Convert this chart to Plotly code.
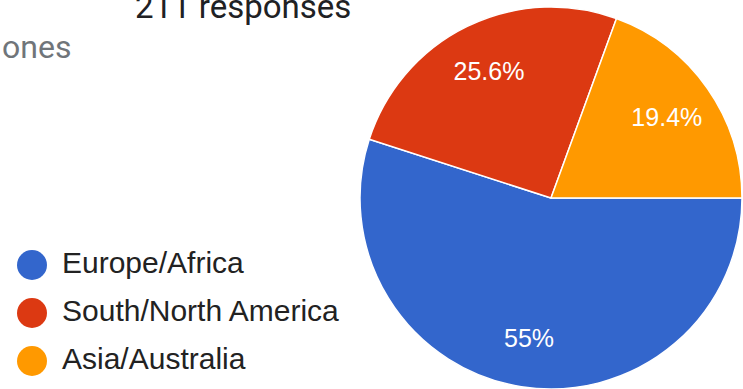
import plotly.graph_objects as go

# Survey answers: which region the respondents are in
regions = ["Europe/Africa", "South/North America", "Asia/Australia"]
responses = [116, 54, 41]
colors = ["#3366cc", "#dc3912", "#ff9900"]
response_label = "211 responses"
title_tail = "ones"

total = sum(responses)


def pct_label(v):
    p = round(v / total * 100, 1)
    s = f"{p:.1f}".rstrip("0").rstrip(".")
    return s + "%"


pct_text = [pct_label(v) for v in responses]

W, H = 743, 389
SANS = "Arial, 'Liberation Sans', sans-serif"
UI = "Roboto, 'Noto Sans', sans-serif"

pie_domain = dict(x=[359 / W, 1.0], y=[0.0, 382 / H])

fig = go.Figure()

# coloured slices
fig.add_trace(go.Pie(
    labels=regions, values=responses, sort=False,
    direction="clockwise", rotation=90,
    marker=dict(colors=colors, line=dict(color="white", width=1.5)),
    textinfo="none", hoverinfo="label+percent",
    showlegend=False, domain=pie_domain,
))

# transparent ring carrying the percentage labels further out
fig.add_trace(go.Pie(
    labels=regions, values=responses, sort=False,
    direction="clockwise", rotation=90, hole=0.48,
    marker=dict(colors=["rgba(0,0,0,0)"] * len(regions), line=dict(width=0)),
    text=pct_text, textinfo="text", textposition="inside",
    insidetextorientation="horizontal",
    textfont=dict(color="white", size=25, family=SANS),
    hoverinfo="skip", showlegend=False, domain=pie_domain,
))

# legend built from round markers
rows = list(range(len(regions)))
LABEL_X = 30
fig.add_trace(go.Scatter(
    x=[0] * len(regions), y=rows, mode="markers",
    marker=dict(size=30, color=colors, line=dict(width=0)),
    hoverinfo="skip", showlegend=False, cliponaxis=False,
))
fig.add_trace(go.Scatter(
    x=[LABEL_X] * len(regions), y=rows, mode="text",
    text=regions, textposition="middle right",
    textfont=dict(size=30, color="#222222", family=SANS),
    hoverinfo="skip", showlegend=False, cliponaxis=False,
))

fig.update_xaxes(domain=[0, 345 / W], range=[-32, 313], visible=False, fixedrange=True)
fig.update_yaxes(domain=[4 / H, 148 / H], range=[2.5, -0.5], visible=False, fixedrange=True)

fig.add_annotation(
    text=response_label, xref="paper", yref="paper",
    x=133 / W, y=1 - 28 / H, xanchor="left", yanchor="bottom",
    showarrow=False, font=dict(size=33, color="#202124", family=UI),
)
fig.add_annotation(
    text=title_tail, xref="paper", yref="paper",
    x=0, y=1 - 68 / H, xanchor="left", yanchor="bottom",
    showarrow=False, font=dict(size=32, color="#70757a", family=UI),
)

fig.update_layout(
    width=W, height=H,
    margin=dict(l=0, r=0, t=0, b=0),
    paper_bgcolor="white", plot_bgcolor="white",
    showlegend=False,
)

fig.write_html("out.html")
